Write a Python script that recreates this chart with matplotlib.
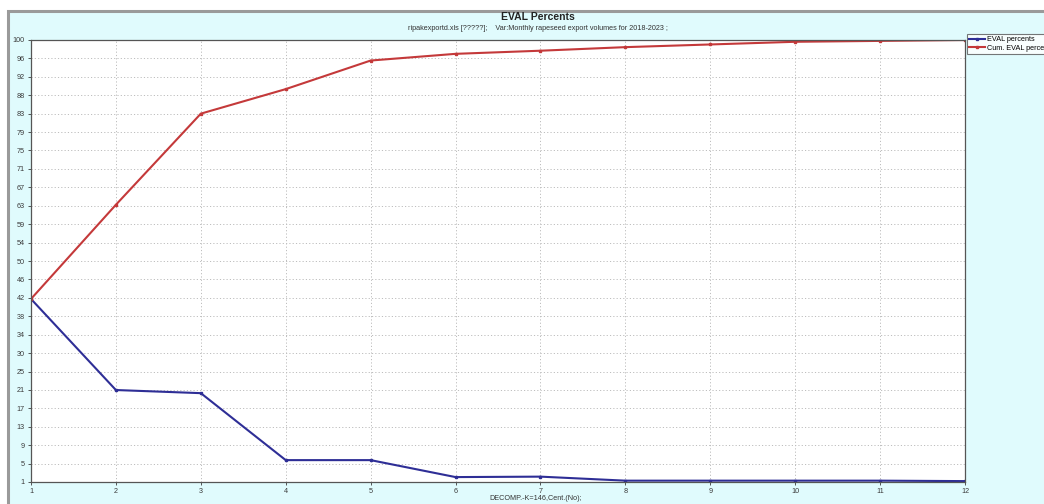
import matplotlib
matplotlib.use('Agg')
import matplotlib.pyplot as plt
from matplotlib.patches import Rectangle

plt.rcParams['font.family'] = ['Liberation Sans', 'DejaVu Sans']

components = [1, 2, 3, 4, 5, 6, 7, 8, 9, 10, 11, 12]
eval_pct = [42.0, 21.6, 20.9, 5.9, 5.9, 2.1, 2.2, 1.3, 1.3, 1.3, 1.3, 1.2]
cum_eval_pct = [42.0, 63.1, 83.5, 89.0, 95.4, 96.9, 97.6, 98.4, 99.0, 99.6, 99.8, 100.0]
y_tick_labels = ['1', '5', '9', '13', '17', '21', '25', '30', '34', '38', '42', '46', '50',
                 '54', '59', '63', '67', '71', '75', '79', '83', '88', '92', '96', '100']

W, H = 1044, 504
fig = plt.figure(figsize=(W / 100, H / 100), dpi=100)
fig.patch.set_facecolor('white')

# light cyan panel with grey frame on top and left
fig.patches.append(Rectangle((8 / W, -0.1), 1.1, 1.1 - 11 / H, transform=fig.transFigure,
                             facecolor='#e0fbfd', edgecolor='#9a9a9a', linewidth=2.2,
                             zorder=-5))

ax = fig.add_axes([31 / W, 1 - 482 / H, (965 - 31) / W, (482 - 40) / H])
ax.set_facecolor('white')

ax.plot(components, eval_pct, color='#2e2e96', lw=1.5, marker='s', ms=2,
        label='EVAL percents')
ax.plot(components, cum_eval_pct, color='#c4393a', lw=1.5, marker='s', ms=2,
        label='Cum. EVAL percents')

ax.set_xlim(1, 12)
ax.set_ylim(1, 100)
ax.set_xticks(components)
ax.set_xticklabels([str(c) for c in components])
y_pos = [1 + k * 99 / 24 for k in range(len(y_tick_labels))]
ax.set_yticks(y_pos)
ax.set_yticklabels(y_tick_labels)
ax.tick_params(labelsize=5.2, colors='#3a3a3a', length=2.5, width=0.6, pad=2)
ax.grid(True, color='#bdbdbd', linestyle=(0, (1.2, 2.2)), linewidth=0.7)
for s in ax.spines.values():
    s.set_color('#555555')
    s.set_linewidth(0.9)

fig.text(538 / W, 1 - 17 / H, 'EVAL Percents', ha='center', va='center',
         fontsize=7.5, fontweight='bold', color='#222222')
fig.text(538 / W, 1 - 28 / H,
         'ripakexportd.xls [?????];    Var:Monthly rapeseed export volumes for 2018-2023 ;',
         ha='center', va='center', fontsize=5.2, color='#333333')
fig.text(536 / W, 1 - 498 / H, 'DECOMP.-K=146,Cent.(No);', ha='center', va='center',
         fontsize=5.2, color='#333333')

leg = ax.legend(loc='upper left', bbox_to_anchor=(967 / W, 1 - 34 / H),
                bbox_transform=fig.transFigure, fontsize=5.2, frameon=True,
                fancybox=False, borderaxespad=0, handlelength=2.2, handletextpad=0.3,
                labelspacing=0.2, borderpad=0.3, markerscale=0.9)
leg.get_frame().set_edgecolor('#555555')
leg.get_frame().set_linewidth(0.8)
leg.get_frame().set_facecolor('white')

fig.savefig('out.png', dpi=100)
